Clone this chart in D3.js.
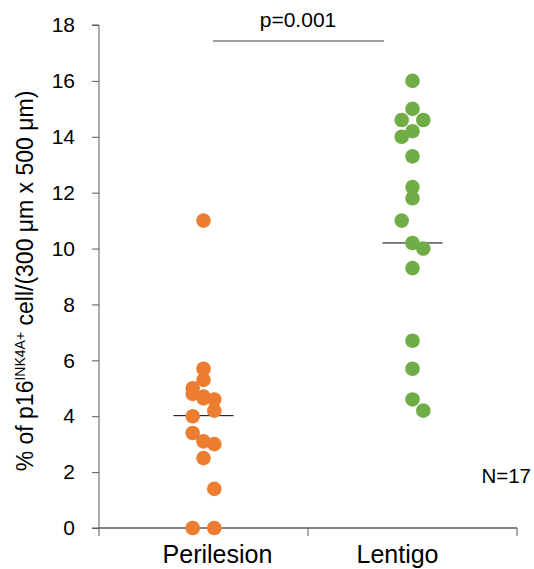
<!DOCTYPE html>
<html><head><meta charset="utf-8">
<script src="https://cdnjs.cloudflare.com/ajax/libs/d3/7.8.5/d3.min.js"></script>
<style>body{margin:0;background:#fff;} svg{display:block;font-family:"Liberation Sans",Arial,sans-serif;}</style>
</head><body>
<svg id="c" width="534" height="569"></svg>
<script>
const categories = ["Perilesion", "Lentigo"];
const colors = ["#ED7D31", "#70AD47"];
// value, column offset (-1 left, 0 center, 1 right)
const perilesionValues = [11, 5.7, 5.3, 5.0, 4.8, 4.7, 4.64, 4.6, 4.2, 4.0, 3.4, 3.1, 3.0, 2.5, 1.4, 0, 0];
const perilesionCols   = [0,  0,   0,  -1,  -1,   0,   0,    1,   1,  -1,  -1,   0,   1,   0,   1, -1, 1];
const lentigoValues = [16, 15, 14.6, 14.6, 14.2, 14.0, 13.3, 12.2, 11.8, 11.0, 10.2, 10.0, 9.3, 6.7, 5.7, 4.6, 4.2];
const lentigoCols   = [0,  0,  -1,    1,    0,   -1,    0,    0,    0,   -1,    0,    1,   0,   0,   0,   0,   1];
const medians = [4.02, 10.2];
const yTicks = [0, 2, 4, 6, 8, 10, 12, 14, 16, 18];
const pText = "p=0.001";
const nText = "N=17";

const svg = d3.select("#c");
const x0 = 99, x1 = 517, yTop = 25, yBot = 528;
const x = d3.scaleBand().domain(categories).range([x0, x1]).paddingInner(0).paddingOuter(0);
const y = d3.scaleLinear().domain([0, 18]).range([yBot, yTop]);
const jitter = d3.scaleLinear().domain([-1, 1]).range([-10.8, 10.8]);
const labelShift = [14, -15];

// Y axis
const yAxis = svg.append("g").attr("transform", `translate(${x0},0)`)
  .call(d3.axisLeft(y).tickValues(yTicks).tickSize(7).tickPadding(17).tickFormat(d3.format("d")));
yAxis.select(".domain").attr("stroke", "#595959").attr("d", `M-7,${yTop}H0V${yBot}H-7`);
yAxis.selectAll(".tick line").attr("stroke", "#595959");
yAxis.selectAll("text").attr("font-size", 21).attr("fill", "#000").attr("font-family", "Liberation Sans, Arial, sans-serif");

// X axis
const xAxis = svg.append("g").attr("transform", `translate(0,${yBot})`);
xAxis.append("line").attr("x1", x0).attr("x2", x1).attr("stroke", "#595959").attr("stroke-width", 1.3);
[x0, x0 + x.bandwidth(), x1].forEach(t => xAxis.append("line").attr("x1", t).attr("x2", t).attr("y1", 0).attr("y2", 8).attr("stroke", "#595959"));
categories.forEach((c, i) => xAxis.append("text").attr("x", x(c) + x.bandwidth() / 2 + labelShift[i]).attr("y", 35)
  .attr("text-anchor", "middle").attr("font-size", 25).attr("fill", "#000").text(c));

// Medians
medians.forEach((m, i) => {
  const cx = x(categories[i]) + x.bandwidth() / 2;
  svg.append("line").attr("x1", cx - 30).attr("x2", cx + 30).attr("y1", y(m)).attr("y2", y(m))
    .attr("stroke", "#000").attr("stroke-width", 1);
});

// Points
const series = [[perilesionValues, perilesionCols], [lentigoValues, lentigoCols]];
series.forEach(([vals, cols], i) => {
  const cx = x(categories[i]) + x.bandwidth() / 2;
  svg.append("g").selectAll("circle").data(vals).join("circle")
    .attr("cx", (d, j) => cx + jitter(cols[j]))
    .attr("cy", d => y(d))
    .attr("r", 7.3)
    .attr("fill", colors[i]);
});

// Significance
svg.append("line").attr("x1", 213).attr("x2", 384).attr("y1", 41).attr("y2", 41).attr("stroke", "#404040").attr("stroke-width", 1.2);
svg.append("text").attr("x", 298).attr("y", 27).attr("text-anchor", "middle").attr("font-size", 21).attr("fill", "#000").text(pText);

// N
svg.append("text").attr("x", 531).attr("y", 483).attr("text-anchor", "end").attr("font-size", 20.5).attr("fill", "#000").text(nText);

// Y label
const yl = svg.append("text").attr("transform", `translate(33,281) rotate(-90)`)
  .attr("text-anchor", "middle").attr("font-size", 23).attr("fill", "#000");
yl.append("tspan").text("% of p16");
yl.append("tspan").attr("font-size", 14).attr("dy", -8).text("INK4A+");
yl.append("tspan").attr("dy", 8).text(" cell/(300 μm x 500 μm)");
</script>
</body></html>
